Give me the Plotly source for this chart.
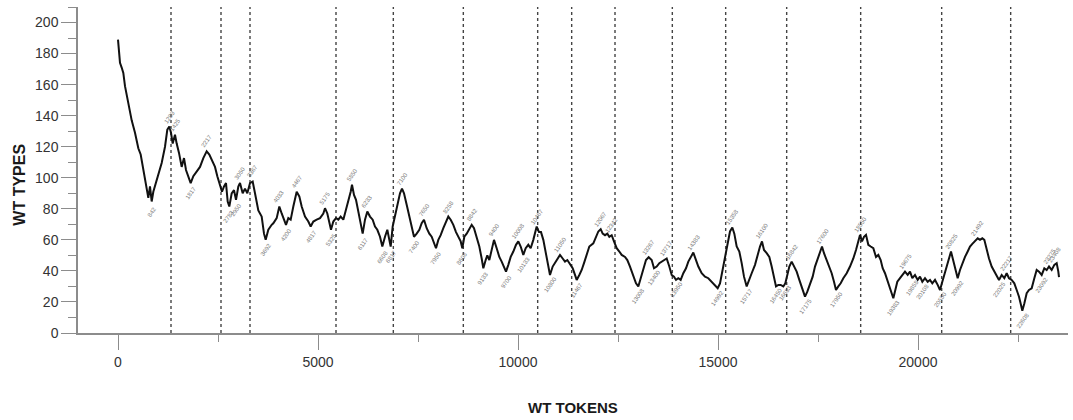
import plotly.graph_objects as go

# Running type count (WT TYPES) against token position (WT TOKENS)
tokens = [
    0, 50, 92, 133, 175, 258, 342, 425, 508, 567, 633, 700, 758, 800, 842, 883, 950, 1008, 1092, 1175,
    1233, 1283, 1325, 1367, 1425, 1467, 1525, 1592, 1650, 1700, 1758, 1817, 1883, 1967, 2050, 2133, 2217, 2283, 2342, 2425,
    2483, 2550, 2600, 2650, 2700, 2742, 2783, 2842, 2900, 2950, 3008, 3050, 3117, 3175, 3233, 3300, 3367, 3425, 3508, 3592,
    3650, 3692, 3758, 3842, 3883, 3967, 4033, 4092, 4150, 4200, 4258, 4317, 4383, 4467, 4533, 4592, 4675, 4758, 4817, 4883,
    4967, 5050, 5133, 5175, 5233, 5283, 5325, 5383, 5450, 5508, 5567, 5633, 5700, 5758, 5817, 5850, 5900, 5950, 6008, 6067,
    6117, 6175, 6233, 6300, 6367, 6425, 6483, 6550, 6608, 6675, 6733, 6783, 6817, 6867, 6925, 6983, 7050, 7100, 7150, 7217,
    7283, 7342, 7400, 7467, 7533, 7592, 7650, 7717, 7783, 7842, 7900, 7950, 8008, 8067, 8133, 8200, 8258, 8317, 8383, 8450,
    8508, 8567, 8608, 8658, 8717, 8783, 8842, 8900, 8967, 9033, 9092, 9133, 9192, 9233, 9283, 9342, 9400, 9467, 9533, 9592,
    9650, 9700, 9758, 9817, 9883, 9950, 10008, 10067, 10133, 10192, 10258, 10317, 10383, 10433, 10467, 10525, 10575, 10633, 10700, 10758,
    10800, 10867, 10925, 10983, 11050, 11117, 11175, 11233, 11300, 11367, 11425, 11467, 11533, 11592, 11650, 11717, 11783, 11883, 11950, 12008,
    12067, 12117, 12175, 12233, 12283, 12342, 12400, 12467, 12533, 12592, 12675, 12733, 12800, 12883, 12950, 13008, 13067, 13133, 13200, 13267,
    13342, 13400, 13467, 13533, 13592, 13650, 13717, 13783, 13842, 13900, 13950, 14008, 14067, 14133, 14200, 14258, 14317, 14383, 14450, 14508,
    14592, 14675, 14758, 14842, 14925, 14992, 15050, 15117, 15175, 15233, 15300, 15358, 15408, 15467, 15533, 15592, 15650, 15717, 15783, 15842,
    15925, 15983, 16050, 16100, 16150, 16217, 16283, 16342, 16400, 16450, 16508, 16567, 16633, 16683, 16733, 16783, 16842, 16900, 16967, 17033,
    17100, 17175, 17233, 17300, 17367, 17425, 17483, 17550, 17600, 17650, 17717, 17783, 17842, 17900, 17950, 18008, 18067, 18133, 18217, 18300,
    18383, 18450, 18517, 18550, 18600, 18650, 18700, 18758, 18817, 18883, 18950, 19008, 19067, 19117, 19175, 19233, 19283, 19342, 19383, 19433,
    19483, 19550, 19617, 19675, 19742, 19800, 19858, 19925, 19992, 20050, 20108, 20175, 20242, 20300, 20358, 20425, 20492, 20550, 20608, 20675,
    20742, 20800, 20825, 20883, 20942, 20992, 21050, 21108, 21175, 21242, 21300, 21358, 21425, 21492, 21550, 21608, 21658, 21717, 21775, 21842,
    21908, 21967, 22025, 22092, 22158, 22217, 22275, 22342, 22408, 22467, 22525, 22575, 22608, 22658, 22717, 22775, 22842, 22908, 22967, 23025,
    23092, 23158, 23217, 23275, 23342, 23408, 23467, 23508, 23525,
]

types = [
    189, 174, 171, 167.5, 159, 148, 137, 129, 119, 115, 105, 96.6, 87, 94.4, 84.7, 91, 96.6, 102, 109.5, 120,
    131, 133, 129, 122, 127.7, 122, 116, 107, 112.7, 105, 101, 96.6, 101, 104, 107, 112.7, 117, 115, 111.6, 107,
    101, 94.4, 91, 94.4, 96.6, 84.7, 81.5, 90, 92, 85.8, 94.4, 96.6, 90, 93, 90, 96.6, 97.6, 90, 79, 75,
    64, 60, 66.5, 69.7, 70.7, 74, 81.5, 77, 73, 69.7, 74, 73, 81.5, 91, 88, 81.5, 75, 71.8, 68.6, 71.8,
    73, 74, 77, 80.4, 77, 71.8, 66.5, 71.8, 74, 73, 75, 73, 79, 85.8, 91, 95.5, 89, 85.8, 79, 71.8,
    64, 73, 78.3, 75, 73, 68.6, 66.5, 62, 55.7, 62, 66.5, 60, 55.7, 68.6, 76, 83.7, 90, 93, 90, 82.6,
    75, 66.5, 62, 64, 66.5, 70.7, 73, 67.5, 64, 62, 57.8, 54.6, 60, 63, 67.5, 71.8, 75, 73, 69.7, 65,
    62, 59, 54.6, 62, 64, 67.5, 69.7, 67.5, 62, 55.7, 48, 41.7, 47, 50, 47, 53.5, 60, 54.6, 49, 46,
    42.8, 39.5, 43.9, 49, 52.5, 56.8, 59, 55.7, 50.3, 54.6, 56.8, 54.6, 60, 66.5, 68.6, 65, 65, 60, 51.4, 42.8,
    37.4, 42.8, 45, 48, 50.3, 48, 46, 47, 43.9, 41.7, 37.4, 34.2, 37.4, 40.6, 45, 50.3, 55.7, 57.8, 62, 65.4,
    66.9, 64, 63, 64, 62, 63, 59, 54.6, 52.5, 50.3, 49, 47, 42.8, 37.4, 32, 30, 35, 41.7, 47, 48.8,
    47, 41.7, 42.8, 45, 46, 47, 48, 42.8, 37.4, 36.3, 34.2, 35.3, 34.2, 38.5, 41.7, 46, 48.8, 51.8, 47, 42.8,
    38.5, 36.3, 35.3, 33, 31, 28.8, 32, 40.6, 49, 57.8, 65.4, 68, 64, 55.7, 52.5, 45, 36.3, 30, 35.3, 38.5,
    43.9, 50.3, 55.7, 59, 53.5, 51.4, 49, 42.8, 35.3, 30, 31, 31, 30, 32, 37.4, 42.8, 46, 42.8, 39.5, 34.2,
    28.8, 23.4, 26.6, 32, 36.3, 42.8, 47, 51.4, 55.7, 51.4, 47, 42.8, 38.5, 33, 27.7, 30, 32, 35.3, 38.5, 42.8,
    48, 53.5, 60, 63.2, 59, 62, 63.2, 56.8, 55.7, 54.6, 49, 50.3, 47, 41.7, 38.5, 34.2, 30, 26.6, 22.4, 27.7,
    33, 35.3, 37.4, 39.5, 37.4, 39.5, 35.3, 37.4, 34.2, 36.3, 33, 35.3, 33, 34.2, 32, 34.2, 31, 27.7, 33, 38.5,
    45, 50.3, 52.5, 47, 40.6, 35.3, 40.6, 45, 49, 52.5, 55.7, 57.4, 59, 61, 60, 61, 60, 53.5, 48, 42.8,
    39.5, 36.3, 34.2, 37.4, 35.3, 38.5, 35.3, 34.2, 32, 27.7, 23.4, 18, 14.4, 19, 25.6, 27.7, 28.8, 35.3, 40.6, 39.5,
    37.4, 41.7, 40.6, 42.8, 40.6, 43.9, 45, 39.5, 36,
]

# Section boundaries (dotted verticals)
boundaries = [1325, 2575, 3300, 5450, 6883, 8633, 10492, 11342, 12425, 13858,
              15192, 16717, 18567, 20592, 22317]

# Token positions of the labelled turning points and their kind
peak_tokens = [1283, 1425, 2217, 3050, 3367, 4033, 4467, 5175, 5850, 6233, 7100, 7650,
               8258, 8842, 9400, 10008, 10467, 11050, 12067, 12342, 13267, 13717, 14383,
               15358, 16100, 16842, 17600, 18550, 19675, 20825, 21492, 22217, 23275, 23408]
trough_tokens = [842, 1817, 2783, 2950, 3692, 4200, 4817, 5325, 6117, 6608, 6817, 7400,
                 7950, 8608, 9133, 9700, 10133, 10800, 11467, 13008, 13400, 13950, 14992,
                 15717, 16450, 16683, 17175, 17950, 19383, 19858, 20108, 20550, 20992,
                 22025, 22608, 23092]

y_major = list(range(0, 201, 20))
x_major = [0, 5000, 10000, 15000, 20000]

lookup = dict(zip(tokens, types))
FONT = "Liberation Sans, Arial, sans-serif"
AXIS_GREY = "#8c8c8c"
LABEL_GREY = "#7a7a7a"

fig = go.Figure()
fig.add_trace(go.Scatter(
    x=tokens, y=types, mode="lines",
    line=dict(color="#111111", width=2),
    hoverinfo="x+y", showlegend=False,
))

for b in boundaries:
    fig.add_shape(type="line", xref="x", yref="y", x0=b, x1=b, y0=0, y1=210,
                  line=dict(color="#444444", width=1.4, dash="dot"), layer="below")

annotations = []
for t in peak_tokens:
    annotations.append(dict(x=t, y=lookup[t], xref="x", yref="y", text=str(t),
                            showarrow=False, textangle=-55, yshift=10,
                            font=dict(family=FONT, size=6, color=LABEL_GREY)))
for t in trough_tokens:
    annotations.append(dict(x=t, y=lookup[t], xref="x", yref="y", text=str(t),
                            showarrow=False, textangle=-55, yshift=-10,
                            font=dict(family=FONT, size=6, color=LABEL_GREY)))

# Axis titles
annotations.append(dict(x=-0.0586, y=0.455, xref="paper", yref="paper", text="<b>WT TYPES</b>",
                        showarrow=False, textangle=-90, xanchor="center", yanchor="middle",
                        font=dict(family=FONT, size=16, color="#1a1a1a")))
annotations.append(dict(x=0.5, y=-0.23, xref="paper", yref="paper", text="<b>WT TOKENS</b>",
                        showarrow=False, xanchor="center", yanchor="middle",
                        font=dict(family=FONT, size=15, color="#1a1a1a")))

fig.update_layout(
    width=1073, height=420,
    margin=dict(l=78, r=5, t=7, b=87),
    plot_bgcolor="white", paper_bgcolor="white",
    font=dict(family=FONT, size=14, color="#333333"),
    annotations=annotations,
    xaxis=dict(
        range=[-1000, 23750], tickmode="array", tickvals=x_major,
        ticktext=[str(v) for v in x_major],
        ticks="outside", ticklen=15, tickwidth=1.3, tickcolor=AXIS_GREY,
        showline=True, linecolor=AXIS_GREY, linewidth=1.5,
        showgrid=False, zeroline=False,
        minor=dict(ticks="outside", ticklen=7, tick0=0, dtick=2500,
                   tickcolor=AXIS_GREY, tickwidth=1.3, showgrid=False),
        tickfont=dict(family=FONT, size=14, color="#333333"),
    ),
    yaxis=dict(
        range=[0, 210], tickmode="array", tickvals=y_major,
        ticktext=[str(v) for v in y_major],
        ticks="outside", ticklen=15, tickwidth=1.3, tickcolor=AXIS_GREY,
        showline=True, linecolor=AXIS_GREY, linewidth=1.5,
        showgrid=False, zeroline=False,
        minor=dict(ticks="outside", ticklen=8, tick0=0, dtick=10,
                   tickcolor=AXIS_GREY, tickwidth=1.3, showgrid=False),
        tickfont=dict(family=FONT, size=14, color="#333333"),
    ),
)

fig.write_html("out.html")
